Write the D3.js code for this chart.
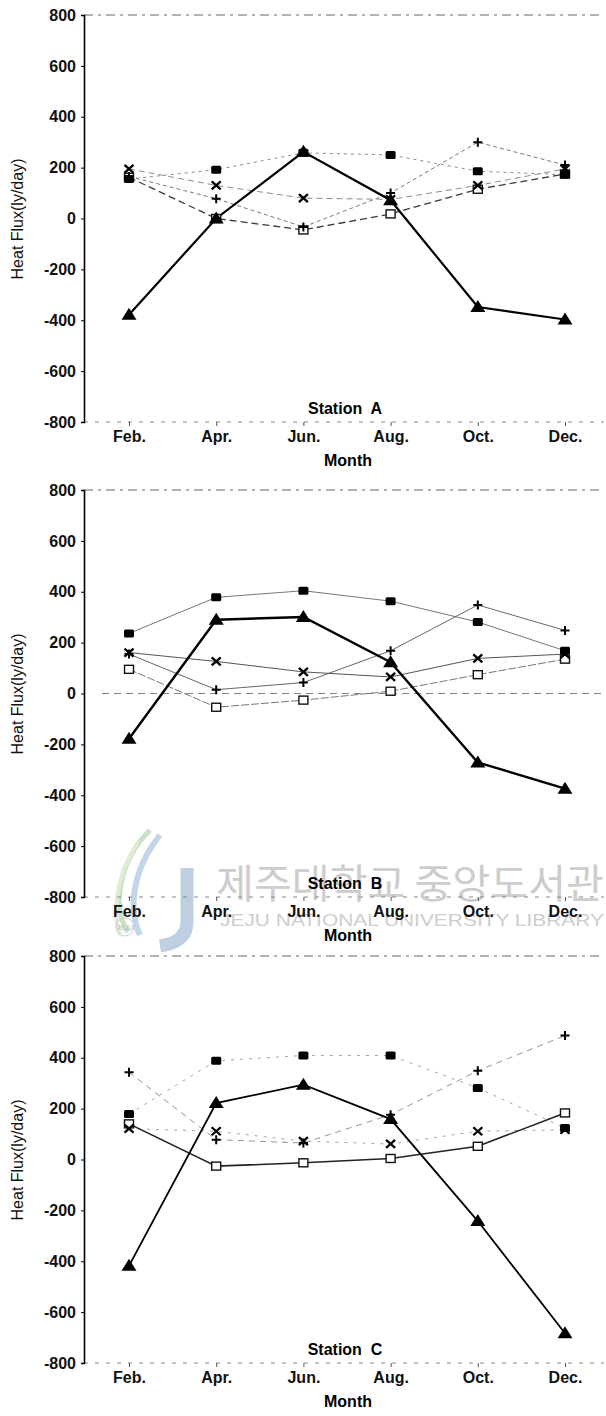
<!DOCTYPE html>
<html>
<head>
<meta charset="utf-8">
<script src="https://cdnjs.cloudflare.com/ajax/libs/d3/7.8.5/d3.min.js"></script>
<style>
  body { margin: 0; background: #fff; }
  svg text { font-family: "Liberation Sans", Arial, sans-serif; }
</style>
</head>
<body>
<div id="my_chart"></div>
<script>

// ======================= //
// DATA
// ======================= //

var months = ["Feb.", "Apr.", "Jun.", "Aug.", "Oct.", "Dec."]
var yTicks = [800, 600, 400, 200, 0, -200, -400, -600, -800]
var stations = ["A", "B", "C"]

// Station A (ly/day)
var triA   = [-378, 0, 262, 72, -348, -397]
var sqA    = [155, 192, 258, 250, 186, 172]
var plusA  = [165, 78, -33, 100, 300, 210]
var crossA = [195, 130, 80, 75, 130, 195]
var openA  = [162, 0, -45, 18, 115, 175]

// Station B
var triB   = [-178, 290, 301, 123, -271, -374]
var sqB    = [236, 378, 404, 363, 281, 168]
var plusB  = [155, 15, 43, 168, 348, 248]
var crossB = [161, 126, 85, 65, 138, 155]
var openB  = [95, -54, -26, 9, 74, 135]

// Station C
var triC   = [-418, 222, 294, 159, -242, -683]
var sqC    = [179, 388, 409, 409, 281, 124]
var plusC  = [343, 78, 65, 176, 349, 487]
var crossC = [121, 111, 72, 61, 111, 117]
var openC  = [140, -26, -13, 4, 52, 183]

var stationData = {
  A: {tri: triA, sq: sqA, plus: plusA, cross: crossA, open: openA},
  B: {tri: triB, sq: sqB, plus: plusB, cross: crossB, open: openB},
  C: {tri: triC, sq: sqC, plus: plusC, cross: crossC, open: openC}
}

// ======================= //
// LAYOUT / STYLES
// ======================= //

var W = 606, H = 1416
var axisX = 84, rightX = 604
var panelTop = {A: 15, B: 490, C: 956}
var plotH = 407

// line style per station / series : [colour, width, dash]
var lineStyles = {
  A: {sq: ["#8c8c8c", 1, "3,4"], plus: ["#7a7a7a", 1, "4,3"], cross: ["#8c8c8c", 1, "6,4"], open: ["#3a3a3a", 1.3, "7,4"], tri: ["#000", 2.2, null]},
  B: {sq: ["#666", 0.9, null], plus: ["#555", 0.9, null], cross: ["#555", 1, null], open: ["#666", 0.9, "8,2"], tri: ["#000", 2.4, null]},
  C: {sq: ["#999", 0.9, "3,6"], plus: ["#888", 0.9, "6,5"], cross: ["#999", 0.9, "3,6"], open: ["#222", 1.6, null], tri: ["#000", 1.8, null]}
}

var svg = d3.select("#my_chart")
  .append("svg")
    .attr("width", W)
    .attr("height", H)

var x = d3.scalePoint()
  .domain(months)
  .range([129, 565])

// ======================= //
// WATERMARK (station B)
// ======================= //

function drawWatermark(top) {
  var g = svg.append("g").attr("opacity", 0.55)
  g.append("path")
    .attr("d", "M150," + (top + 340) + " C118," + (top + 372) + " 112," + (top + 418) + " 128," + (top + 442))
    .attr("fill", "none").attr("stroke", "#9fc8a0").attr("stroke-width", 5)
  g.append("path")
    .attr("d", "M160," + (top + 345) + " C132," + (top + 380) + " 128," + (top + 420) + " 140," + (top + 445))
    .attr("fill", "none").attr("stroke", "#8fb8d8").attr("stroke-width", 6)
  g.append("path")
    .attr("d", "M138," + (top + 352) + " C112," + (top + 392) + " 114," + (top + 430) + " 120," + (top + 445))
    .attr("fill", "none").attr("stroke", "#c9ddb0").attr("stroke-width", 4)
  g.append("path")
    .attr("d", "M187," + (top + 378) + " V" + (top + 432) + " Q187," + (top + 452) + " 160," + (top + 456))
    .attr("fill", "none").attr("stroke", "#8aa8cc").attr("stroke-width", 13)
  g.append("circle").attr("cx", 125).attr("cy", top + 437).attr("r", 9)
    .attr("fill", "none").attr("stroke", "#aaa").attr("stroke-width", 1)
  g.append("text").attr("x", 125).attr("y", top + 440)
    .attr("text-anchor", "middle").style("font-size", "7px").style("fill", "#888").text("JEJU")

  svg.append("text")
    .attr("x", 216).attr("y", top + 408)
    .attr("textLength", 388)
    .attr("lengthAdjust", "spacingAndGlyphs")
    .style("font-family", "'Noto Sans CJK KR', sans-serif")
    .style("font-size", "40px")
    .style("fill", "#cdcdcd")
    .text("제주대학교 중앙도서관")
  svg.append("text")
    .attr("x", 220).attr("y", top + 436)
    .attr("textLength", 384)
    .attr("lengthAdjust", "spacingAndGlyphs")
    .style("font-size", "17px")
    .style("fill", "#cdcdcd")
    .text("JEJU NATIONAL UNIVERSITY LIBRARY")
}

// ======================= //
// PANELS
// ======================= //

function drawPanel(st) {
  var top = panelTop[st]
  var bottom = top + plotH
  var data = stationData[st]
  var styles = lineStyles[st]

  var y = d3.scaleLinear()
    .domain([-800, 800])
    .range([bottom, top])

  if (st == "B") drawWatermark(top)

  // top border (dashed in the scan)
  svg.append("line")
    .attr("x1", axisX).attr("x2", rightX)
    .attr("y1", y(800)).attr("y2", y(800))
    .style("stroke", "#666").style("stroke-width", 1)
    .style("stroke-dasharray", "9,5,3,5")

  // bottom line
  svg.append("line")
    .attr("x1", axisX).attr("x2", rightX)
    .attr("y1", y(-800)).attr("y2", y(-800))
    .style("stroke", "#888").style("stroke-width", 1)
    .style("stroke-dasharray", "4,7")

  // zero line visible only on station B
  if (st == "B") {
    svg.append("line")
      .attr("x1", 102).attr("x2", rightX)
      .attr("y1", y(0)).attr("y2", y(0))
      .style("stroke", "#777").style("stroke-width", 0.9)
      .style("stroke-dasharray", "7,5")
  }

  // Y axis
  var yAxis = svg.append("g")
    .attr("transform", "translate(" + axisX + ",0)")
    .call(d3.axisLeft(y).tickValues(yTicks).tickSize(3).tickPadding(5).tickFormat(function(d){ return String(d) }))
  yAxis.select(".domain").style("stroke", "#000").style("stroke-width", 1.6)
  yAxis.selectAll("line").style("stroke", "#000")
  yAxis.selectAll("text")
    .style("font-size", "16px")
    .style("font-weight", "bold")
    .style("fill", "#111")

  // X axis
  var xAxis = svg.append("g")
    .attr("transform", "translate(0," + bottom + ")")
    .call(d3.axisBottom(x).tickSize(4).tickPadding(5))
  xAxis.select(".domain").remove()
  xAxis.selectAll("line").style("stroke", "#555")
  xAxis.selectAll("text")
    .style("font-size", "16px")
    .style("font-weight", "bold")
    .style("fill", "#111")

  // titles
  svg.append("text")
    .attr("transform", "translate(23," + (top + 204) + ")rotate(-90)")
    .attr("text-anchor", "middle")
    .style("font-size", "16px")
    .style("fill", "#111")
    .text("Heat Flux(ly/day)")

  svg.append("text")
    .attr("x", 345).attr("y", top + 399)
    .attr("text-anchor", "middle")
    .style("font-size", "16px")
    .style("font-weight", "bold")
    .style("white-space", "pre")
    .text("Station  " + st)

  svg.append("text")
    .attr("x", 348).attr("y", top + 451)
    .attr("text-anchor", "middle")
    .style("font-size", "16px")
    .style("font-weight", "bold")
    .text("Month")

  // lines
  var line = d3.line()
    .x(function(d, i){ return x(months[i]) })
    .y(function(d){ return y(d) })

  var order = ["sq", "plus", "cross", "open", "tri"]
  order.forEach(function(k){
    var s = styles[k]
    svg.append("path")
      .datum(data[k])
      .attr("d", line)
      .style("fill", "none")
      .style("stroke", s[0])
      .style("stroke-width", s[1])
      .style("stroke-dasharray", s[2])
  })

  // markers
  var g = svg.append("g")

  g.selectAll(".open" + st)
    .data(data.open)
    .enter()
    .append("rect")
      .attr("x", function(d, i){ return x(months[i]) - 4.5 })
      .attr("y", function(d){ return y(d) - 4 })
      .attr("width", 9)
      .attr("height", 8)
      .style("fill", "#fff")
      .style("stroke", "#111")
      .style("stroke-width", 1.4)

  g.selectAll(".cross" + st)
    .data(data.cross)
    .enter()
    .append("path")
      .attr("transform", function(d, i){ return "translate(" + x(months[i]) + "," + y(d) + ")" })
      .attr("d", "M-4.5,-4L4.5,4M-4.5,4L4.5,-4")
      .style("stroke", "#000")
      .style("stroke-width", 2.3)

  g.selectAll(".plus" + st)
    .data(data.plus)
    .enter()
    .append("path")
      .attr("transform", function(d, i){ return "translate(" + x(months[i]) + "," + y(d) + ")" })
      .attr("d", "M-4.5,0H4.5M0,-4.5V4.5")
      .style("stroke", "#000")
      .style("stroke-width", 2)

  g.selectAll(".sq" + st)
    .data(data.sq)
    .enter()
    .append("rect")
      .attr("x", function(d, i){ return x(months[i]) - 5 })
      .attr("y", function(d){ return y(d) - 4 })
      .attr("width", 10)
      .attr("height", 8)
      .attr("rx", 1.5)
      .style("fill", "#000")

  g.selectAll(".tri" + st)
    .data(data.tri)
    .enter()
    .append("path")
      .attr("transform", function(d, i){ return "translate(" + x(months[i]) + "," + y(d) + ")" })
      .attr("d", "M0,-7L7.5,5L-7.5,5Z")
      .style("fill", "#000")
}

stations.forEach(drawPanel)

</script>
</body>
</html>
